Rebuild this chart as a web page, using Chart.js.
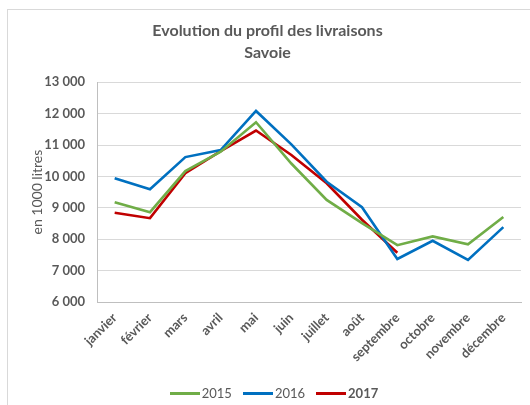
<!DOCTYPE html>
<html lang="fr">
  <head>
    <meta charset="UTF-8" />
    <title>Evolution du profil des livraisons Savoie</title>
    <script src="https://cdn.jsdelivr.net/npm/chart.js"></script>
    <style>
      body { margin: 0; background: #fff; }
      #wrap { position: relative; width: 530px; height: 405px; }
      #frame {
        position: absolute; left: 7px; top: 9px; right: 0; bottom: -2px;
        border-left: 1px solid #d9d9d9; border-top: 1px solid #d9d9d9;
      }
      canvas { position: absolute; left: 0; top: 0; }
      #legend {
        position: absolute; left: 0; width: 548px; top: 385px;
        display: flex; justify-content: center; gap: 11px;
        font: 13px Lato, sans-serif; color: #595959; line-height: 16px;
      }
      #legend span.item { display: flex; align-items: center; }
      #legend span.swatch { display: inline-block; width: 30px; height: 3px; margin-right: 2px; }
    </style>
  </head>
  <body>
    <div id="wrap">
      <div id="frame"></div>
      <canvas id="myChart" width="530" height="405"></canvas>
      <div id="legend"></div>
    </div>

    <script>
      var months = ["janvier", "février", "mars", "avril", "mai", "juin",
        "juillet", "août", "septembre", "octobre", "novembre", "décembre"];

      // en 1000 litres
      var values2015 = [9180, 8860, 10170, 10785, 11725, 10410, 9250, 8510, 7810, 8090, 7835, 8710];
      var values2016 = [9940, 9590, 10615, 10840, 12085, 11020, 9830, 9020, 7370, 7950, 7340, 8385];
      var values2017 = [8840, 8670, 10100, 10805, 11460, 10680, 9780, 8620, 7570];

      var yTicks = [6000, 7000, 8000, 9000, 10000, 11000, 12000, 13000];

      var series = [
        { label: "2015", data: values2015, color: "#70ad47", bold: false },
        { label: "2016", data: values2016, color: "#0070c0", bold: false },
        { label: "2017", data: values2017, color: "#c00000", bold: true },
      ];

      function fmt(v) {
        return String(v).replace(/\B(?=(\d{3})+(?!\d))/g, " ");
      }

      var ctx = document.getElementById("myChart").getContext("2d");
      window.myChart = new Chart(ctx, {
        type: "line",
        data: {
          labels: months,
          datasets: series.map(function (s) {
            return {
              label: s.label,
              data: s.data,
              borderColor: s.color,
              backgroundColor: s.color,
              borderWidth: 2.6,
              pointRadius: 0,
              tension: 0,
              fill: false,
            };
          }),
        },
        options: {
          responsive: false,
          animation: false,
          layout: { padding: { left: 14, right: 9, top: 0, bottom: 0 } },
          plugins: {
            legend: { display: false },
            tooltip: { enabled: false },
            title: {
              display: true,
              text: ["Evolution du profil des livraisons", "Savoie"],
              color: "#595959",
              font: { family: "Lato", size: 16, weight: "bold", lineHeight: 1.35 },
              padding: { top: 20, bottom: 19 },
            },
          },
          scales: {
            x: {
              offset: true,
              grid: { display: false, drawTicks: false },
              border: { display: true, color: "#bfbfbf", width: 1 },
              ticks: {
                color: "#595959",
                font: { family: "Lato", size: 13, weight: "bold" },
                maxRotation: 45,
                minRotation: 45,
                padding: 8,
                autoSkip: false,
              },
              afterFit: function (scale) { scale.height = 103; },
            },
            y: {
              min: 6000,
              max: 13000,
              afterBuildTicks: function (scale) {
                scale.ticks = yTicks.map(function (v) { return { value: v }; });
              },
              grid: { color: "#d9d9d9", drawTicks: false },
              border: { display: true, color: "#bfbfbf", width: 1 },
              ticks: {
                color: "#595959",
                font: { family: "Lato", size: 13, weight: "bold" },
                padding: 12,
                callback: function (v) { return fmt(v); },
              },
              title: {
                display: true,
                text: "en 1000 litres",
                color: "#595959",
                font: { family: "Lato", size: 14 },
                padding: { top: 15, bottom: 0 },
              },
              afterFit: function (scale) { scale.width = 83; },
            },
          },
        },
      });

      var legend = document.getElementById("legend");
      series.forEach(function (s) {
        var item = document.createElement("span");
        item.className = "item";
        var sw = document.createElement("span");
        sw.className = "swatch";
        sw.style.background = s.color;
        var txt = document.createElement("span");
        txt.textContent = s.label;
        if (s.bold) txt.style.fontWeight = "bold";
        item.appendChild(sw);
        item.appendChild(txt);
        legend.appendChild(item);
      });
    </script>
  </body>
</html>
